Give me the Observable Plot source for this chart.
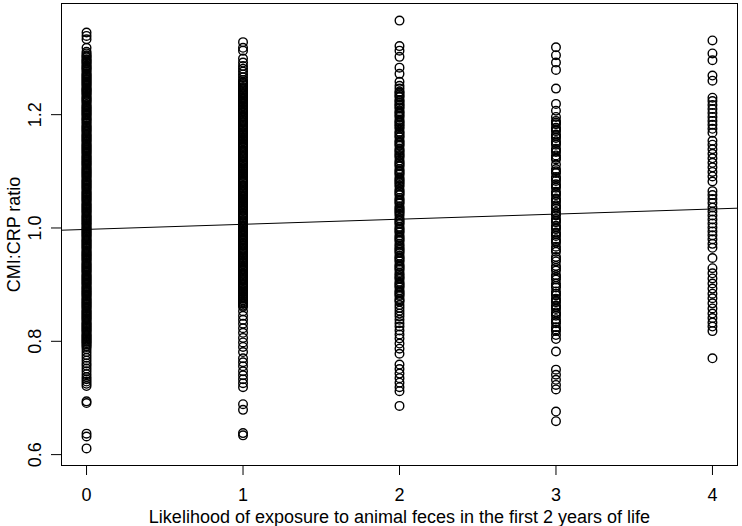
<!DOCTYPE html>
<html>
<head>
<meta charset="utf-8">
<script src="https://cdn.jsdelivr.net/npm/d3@7"></script>
<script src="https://cdn.jsdelivr.net/npm/@observablehq/plot@0.6"></script>
<style>
  html, body { margin: 0; padding: 0; background: #fff; }
  #chart { width: 742px; height: 526px; }
</style>
</head>
<body>
<div id="chart"></div>
<script>
// Categories (x) and CMI:CRP ratio values read per category
const exposure = [0, 1, 2, 3, 4];

const ratio0 = [1.345, 1.339, 1.333, 1.318, 1.311, 1.308, 1.305, 1.301, 1.298, 1.294, 1.290, 1.287, 1.283, 1.279, 1.276, 1.271, 1.267, 1.263, 1.259, 1.255, 1.251, 1.246, 1.243, 1.239, 1.235, 1.230, 1.226, 1.222, 1.219, 1.214, 1.210, 1.206, 1.202, 1.198, 1.193, 1.189, 1.186, 1.181, 1.177, 1.173, 1.169, 1.164, 1.160, 1.156, 1.152, 1.147, 1.143, 1.139, 1.135, 1.131, 1.126, 1.122, 1.118, 1.114, 1.110, 1.105, 1.101, 1.097, 1.093, 1.089, 1.084, 1.080, 1.076, 1.072, 1.068, 1.063, 1.059, 1.055, 1.051, 1.047, 1.042, 1.038, 1.034, 1.030, 1.026, 1.021, 1.017, 1.013, 1.009, 1.005, 1.000, 0.996, 0.992, 0.988, 0.984, 0.979, 0.975, 0.971, 0.967, 0.963, 0.958, 0.954, 0.950, 0.946, 0.942, 0.937, 0.933, 0.929, 0.925, 0.921, 0.916, 0.912, 0.908, 0.904, 0.900, 0.895, 0.891, 0.887, 0.883, 0.879, 0.874, 0.870, 0.866, 0.862, 0.858, 0.853, 0.849, 0.845, 0.841, 0.837, 0.832, 0.828, 0.824, 0.820, 0.816, 0.811, 0.807, 0.803, 0.799, 0.795, 0.790, 0.786, 0.781, 0.776, 0.771, 0.766, 0.761, 0.757, 0.752, 0.747, 0.742, 0.737, 0.733, 0.729, 0.725, 0.721, 0.694, 0.691, 0.637, 0.632, 0.611];
const ratio0b = [1.303, 1.296, 1.292, 1.285, 1.281, 1.273, 1.269, 1.265, 1.261, 1.257, 1.253, 1.248, 1.244, 1.241, 1.237, 1.232, 1.228, 1.224, 1.216, 1.212, 1.208, 1.204, 1.200, 1.195, 1.191, 1.184, 1.179, 1.175, 1.171, 1.166, 1.162, 1.158, 1.154, 1.149, 1.145, 1.141, 1.137, 1.133, 1.128, 1.124, 1.120, 1.116, 1.112, 1.107, 1.103, 1.099, 1.095, 1.091, 1.086, 1.082, 1.078, 1.074, 1.070, 1.065, 1.061, 1.057, 1.053, 1.049, 1.044, 1.040, 1.036, 1.032, 1.028, 1.023, 1.019, 1.015, 1.011, 1.007, 1.002, 0.998, 0.994, 0.990, 0.986, 0.981, 0.977, 0.973, 0.969, 0.965, 0.960, 0.956, 0.952, 0.948, 0.944, 0.939, 0.935, 0.931, 0.927, 0.923, 0.918, 0.914, 0.910, 0.906, 0.902, 0.897, 0.893, 0.889, 0.885, 0.881, 0.876, 0.872, 0.868, 0.864, 0.860, 0.855, 0.851, 0.847, 0.843, 0.839, 0.834, 0.830, 0.826, 0.822, 0.818, 0.813, 0.809, 0.805, 0.801, 0.797, 0.792];

const ratio1 = [1.328, 1.318, 1.313, 1.299, 1.292, 1.286, 1.281, 1.276, 1.271, 1.266, 1.261, 1.256, 1.252, 1.247, 1.243, 1.238, 1.234, 1.229, 1.225, 1.221, 1.216, 1.211, 1.207, 1.203, 1.198, 1.194, 1.189, 1.185, 1.180, 1.176, 1.172, 1.167, 1.163, 1.158, 1.154, 1.149, 1.145, 1.141, 1.136, 1.132, 1.127, 1.123, 1.118, 1.114, 1.110, 1.105, 1.101, 1.096, 1.092, 1.087, 1.083, 1.079, 1.074, 1.070, 1.065, 1.061, 1.056, 1.052, 1.048, 1.043, 1.039, 1.034, 1.030, 1.025, 1.021, 1.017, 1.012, 1.008, 1.003, 0.999, 0.994, 0.990, 0.986, 0.981, 0.977, 0.972, 0.968, 0.963, 0.959, 0.955, 0.950, 0.946, 0.941, 0.937, 0.932, 0.928, 0.924, 0.919, 0.915, 0.910, 0.906, 0.901, 0.897, 0.893, 0.888, 0.884, 0.879, 0.875, 0.870, 0.866, 0.861, 0.853, 0.845, 0.838, 0.831, 0.823, 0.815, 0.806, 0.798, 0.790, 0.781, 0.770, 0.763, 0.756, 0.747, 0.740, 0.733, 0.726, 0.719, 0.689, 0.679, 0.638, 0.634];
const ratio1b = [1.258, 1.254, 1.249, 1.245, 1.240, 1.236, 1.231, 1.227, 1.223, 1.218, 1.214, 1.209, 1.205, 1.200, 1.196, 1.191, 1.187, 1.182, 1.178, 1.174, 1.169, 1.165, 1.160, 1.156, 1.151, 1.147, 1.143, 1.138, 1.134, 1.129, 1.125, 1.120, 1.116, 1.112, 1.107, 1.103, 1.098, 1.094, 1.089, 1.085, 1.081, 1.076, 1.072, 1.067, 1.063, 1.058, 1.054, 1.050, 1.045, 1.041, 1.036, 1.032, 1.027, 1.023, 1.019, 1.014, 1.010, 1.005, 1.001, 0.996, 0.992, 0.988, 0.983, 0.979, 0.974, 0.970, 0.965, 0.961, 0.957, 0.952, 0.948, 0.943, 0.939, 0.934, 0.930, 0.926, 0.921, 0.917, 0.912, 0.908, 0.903, 0.899, 0.895, 0.890, 0.886, 0.881, 0.877, 0.872, 0.868, 0.863];

const ratio2 = [1.366, 1.321, 1.313, 1.302, 1.283, 1.272, 1.258, 1.251, 1.246, 1.241, 1.236, 1.231, 1.226, 1.221, 1.216, 1.211, 1.206, 1.201, 1.196, 1.191, 1.186, 1.181, 1.175, 1.170, 1.165, 1.160, 1.155, 1.150, 1.145, 1.140, 1.135, 1.129, 1.124, 1.119, 1.114, 1.109, 1.104, 1.099, 1.094, 1.089, 1.084, 1.079, 1.073, 1.068, 1.063, 1.058, 1.053, 1.048, 1.043, 1.038, 1.033, 1.028, 1.022, 1.017, 1.012, 1.007, 1.002, 0.997, 0.992, 0.987, 0.982, 0.977, 0.972, 0.966, 0.961, 0.956, 0.951, 0.946, 0.941, 0.936, 0.931, 0.926, 0.921, 0.915, 0.910, 0.905, 0.900, 0.895, 0.890, 0.885, 0.880, 0.875, 0.870, 0.864, 0.859, 0.854, 0.849, 0.844, 0.838, 0.832, 0.826, 0.819, 0.812, 0.805, 0.796, 0.787, 0.778, 0.759, 0.751, 0.743, 0.735, 0.727, 0.719, 0.712, 0.686];
const ratio2b = [1.239, 1.233, 1.224, 1.218, 1.213, 1.204, 1.198, 1.188, 1.183, 1.178, 1.168, 1.162, 1.152, 1.147, 1.137, 1.132, 1.127, 1.116, 1.111, 1.101, 1.096, 1.086, 1.081, 1.076, 1.065, 1.060, 1.050, 1.045, 1.035, 1.030, 1.025, 1.014, 1.009, 0.999, 0.994, 0.984, 0.979, 0.969, 0.963, 0.958, 0.948, 0.943, 0.933, 0.928, 0.918, 0.912, 0.902, 0.897, 0.887, 0.882, 0.872];

const ratio3 = [1.319, 1.305, 1.292, 1.279, 1.246, 1.219, 1.207, 1.196, 1.189, 1.183, 1.177, 1.171, 1.165, 1.159, 1.153, 1.147, 1.140, 1.134, 1.128, 1.121, 1.112, 1.104, 1.097, 1.090, 1.083, 1.077, 1.071, 1.064, 1.058, 1.052, 1.046, 1.040, 1.034, 1.028, 1.022, 1.016, 1.010, 1.004, 0.998, 0.992, 0.986, 0.980, 0.974, 0.967, 0.958, 0.949, 0.941, 0.933, 0.925, 0.917, 0.909, 0.902, 0.895, 0.888, 0.881, 0.875, 0.869, 0.863, 0.857, 0.851, 0.845, 0.839, 0.832, 0.825, 0.818, 0.811, 0.804, 0.782, 0.750, 0.741, 0.732, 0.723, 0.715, 0.676, 0.659];
const ratio3b = [1.186, 1.174, 1.162, 1.150, 1.137, 1.124, 1.100, 1.087, 1.074, 1.061, 1.049, 1.037, 1.025, 1.013, 1.001, 0.989, 0.977, 0.962, 0.945, 0.929, 0.913, 0.898, 0.884, 0.872, 0.860, 0.848, 0.835, 0.821];

const ratio4 = [1.331, 1.308, 1.296, 1.269, 1.260, 1.230, 1.224, 1.217, 1.210, 1.203, 1.196, 1.189, 1.182, 1.175, 1.168, 1.154, 1.147, 1.139, 1.131, 1.123, 1.115, 1.107, 1.099, 1.091, 1.082, 1.065, 1.058, 1.051, 1.044, 1.036, 1.029, 1.022, 1.015, 1.008, 1.001, 0.994, 0.987, 0.980, 0.972, 0.965, 0.947, 0.929, 0.920, 0.911, 0.902, 0.893, 0.884, 0.876, 0.867, 0.858, 0.849, 0.841, 0.833, 0.826, 0.818, 0.770];

// Fitted regression line (abline)
const fitIntercept = 0.9975;
const fitSlope = 0.0090;

// Tick labels
const xTicks = [0, 1, 2, 3, 4];
const yTicks = [0.6, 0.8, 1.0, 1.2];

const xLabel = "Likelihood of exposure to animal feces in the first 2 years of life";
const yLabel = "CMI:CRP ratio";

// Build the table from the arrays
const groups = [
  [...ratio0, ...ratio0b],
  [...ratio1, ...ratio1b],
  [...ratio2, ...ratio2b],
  [...ratio3, ...ratio3b],
  ratio4
];
const points = [];
groups.forEach((vals, i) => vals.forEach(v => points.push({x: exposure[i], y: v})));

// R-style 4% axis expansion
const xExt = d3.extent(points, d => d.x);
const yExt = d3.extent(points, d => d.y);
const xPad = (xExt[1] - xExt[0]) * 0.04;
const yPad = (yExt[1] - yExt[0]) * 0.04;
const xDomain = [xExt[0] - xPad, xExt[1] + xPad];
const yDomain = [yExt[0] - yPad, yExt[1] + yPad];

const fitLine = xDomain.map(x => ({x, y: fitIntercept + fitSlope * x}));

const chart = Plot.plot({
  width: 742,
  height: 526,
  marginLeft: 61,
  marginRight: 5,
  marginTop: 3,
  marginBottom: 61,
  style: {fontFamily: "'Liberation Sans', Arial, Helvetica, sans-serif", fontSize: "18px", color: "#000", background: "#fff"},
  x: {domain: xDomain},
  y: {domain: yDomain},
  marks: [
    Plot.axisX(xTicks, {tickSize: 10, tickPadding: 13, tickFormat: d3.format("d"), fontSize: 18, label: xLabel, labelAnchor: "center", labelOffset: 57, labelArrow: "none"}),
    Plot.axisY(yTicks, {tickSize: 10, tickPadding: 11, tickRotate: -90, tickFormat: d3.format(".1f"), fontSize: 18, label: yLabel, labelAnchor: "center", labelOffset: 54, labelArrow: "none"}),
    Plot.dot(points, {x: "x", y: "y", r: 4.3, stroke: "#000", strokeWidth: 1.4, fill: "none"}),
    Plot.line(fitLine, {x: "x", y: "y", stroke: "#000", strokeWidth: 1}),
    Plot.frame({stroke: "#000", strokeWidth: 1})
  ]
});

document.getElementById("chart").appendChild(chart);
</script>
</body>
</html>
